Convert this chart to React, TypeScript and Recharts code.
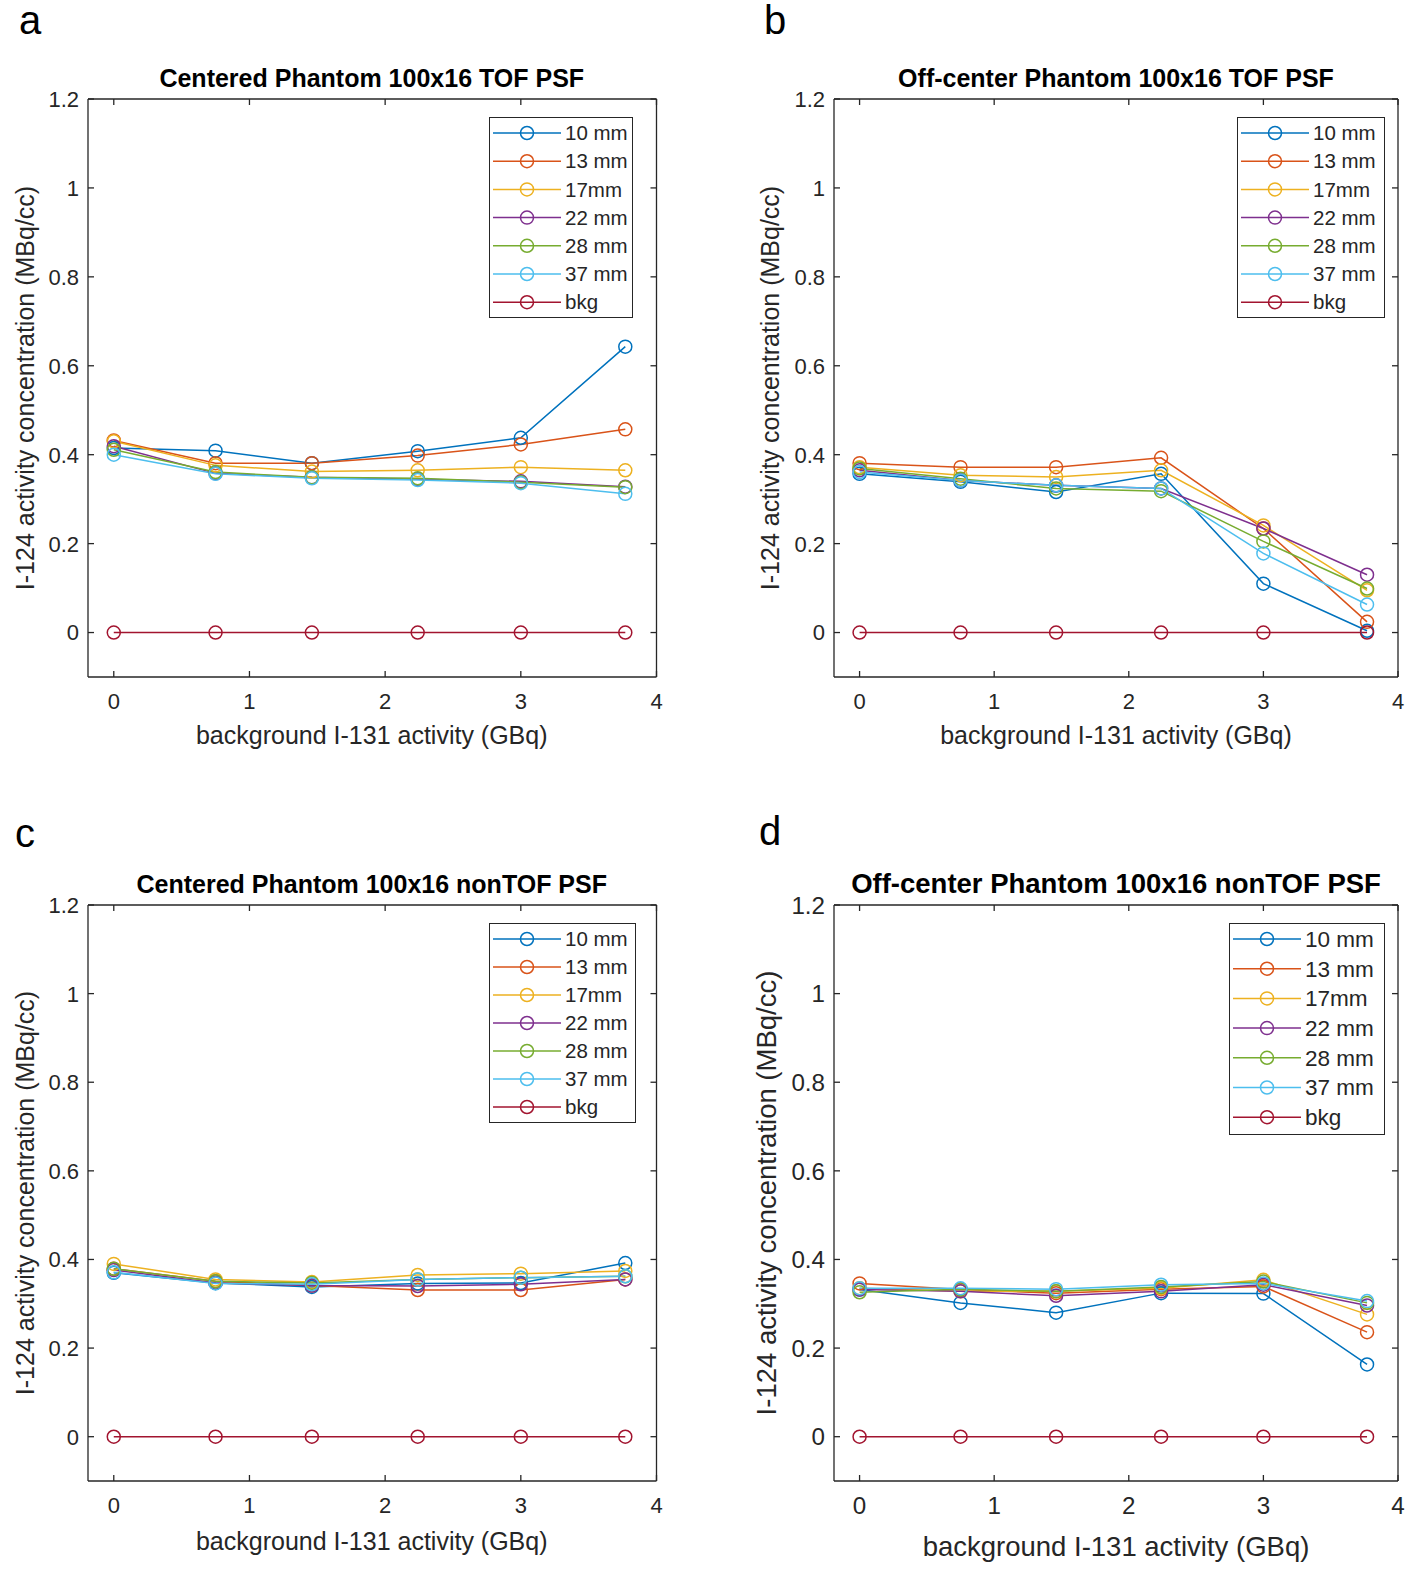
import React from 'react';
import { LineChart, Line, XAxis, YAxis } from 'recharts';

const activity = [0, 0.75, 1.46, 2.24, 3.0, 3.77];
const seriesNames = ['10 mm', '13 mm', '17mm', '22 mm', '28 mm', '37 mm', 'bkg'];
const seriesColors = ['#0072BD', '#D95319', '#EDB120', '#7E2F8E', '#77AC30', '#4DBEEE', '#A2142F'];

// a: centered, TOF PSF
const centeredTof = [
  [0.415, 0.409, 0.381, 0.408, 0.438, 0.643],
  [0.432, 0.381, 0.381, 0.398, 0.423, 0.457],
  [0.43, 0.376, 0.362, 0.365, 0.372, 0.365],
  [0.419, 0.358, 0.349, 0.345, 0.34, 0.328],
  [0.411, 0.361, 0.349, 0.347, 0.338, 0.327],
  [0.4, 0.357, 0.347, 0.343, 0.336, 0.312],
  [0, 0, 0, 0, 0, 0],
];

// b: off-center, TOF PSF
const offCenterTof = [
  [0.357, 0.339, 0.316, 0.357, 0.11, 0.004],
  [0.381, 0.372, 0.372, 0.393, 0.234, 0.024],
  [0.372, 0.354, 0.35, 0.365, 0.241, 0.095],
  [0.365, 0.342, 0.331, 0.324, 0.234, 0.13],
  [0.369, 0.346, 0.324, 0.318, 0.205, 0.099],
  [0.361, 0.342, 0.331, 0.324, 0.178, 0.063],
  [0, 0, 0, 0, 0, 0],
];

// c: centered, nonTOF PSF
const centeredNonTof = [
  [0.37, 0.347, 0.338, 0.346, 0.347, 0.392],
  [0.379, 0.351, 0.341, 0.331, 0.331, 0.355],
  [0.39, 0.355, 0.349, 0.365, 0.368, 0.374],
  [0.376, 0.347, 0.341, 0.34, 0.344, 0.355],
  [0.379, 0.351, 0.347, 0.355, 0.359, 0.362],
  [0.371, 0.346, 0.344, 0.355, 0.359, 0.362],
  [0, 0, 0, 0, 0, 0],
];

// d: off-center, nonTOF PSF
const offCenterNonTof = [
  [0.332, 0.302, 0.28, 0.324, 0.323, 0.163],
  [0.346, 0.332, 0.324, 0.333, 0.339, 0.236],
  [0.335, 0.328, 0.328, 0.335, 0.354, 0.276],
  [0.332, 0.328, 0.318, 0.328, 0.343, 0.296],
  [0.326, 0.333, 0.328, 0.338, 0.35, 0.302],
  [0.335, 0.335, 0.333, 0.343, 0.346, 0.306],
  [0, 0, 0, 0, 0, 0],
];

const xTicks = [0, 1, 2, 3, 4];
const yTicks = [0, 0.2, 0.4, 0.6, 0.8, 1, 1.2];

const FONT = '"Liberation Sans", Arial, sans-serif';
const AXIS = '#262626';

const toRows = (values: number[][]) =>
  activity.map((x, i) => {
    const row: Record<string, number> = { x };
    values.forEach((s, k) => { row['s' + k] = s[i]; });
    return row;
  });

const fmtY = (v: number) => String(Number(v.toFixed(1)));

type Box = { L: number; R: number; T: number; B: number };

type PanelProps = {
  letter: string;
  letterPos: [number, number];
  title: string;
  values: number[][];
  box: Box;
  legend: { left: number; top: number; width: number; height: number; row: number };
  fs: number;
  xLabelY: number;
  yLabelX: number;
};

const Panel = ({ letter, letterPos, title, values, box, legend, fs, xLabelY, yLabelX }: PanelProps) => {
  const yAxisW = 48;
  const padL = 20;
  const padT = 14;
  const padR = 14;
  const width = box.R - box.L + padL + yAxisW + padR + 1;
  const height = box.B - box.T + padT + 1 + 50;
  const rows = toRows(values);
  const cx = (box.L + box.R) / 2;
  const cy = (box.T + box.B) / 2;
  const noTick = () => <g />;

  const xTick = (p: any) => (
    <text x={p.x} y={p.y} dy="0.71em" textAnchor="middle" fill={AXIS} fontSize={22 * fs} fontFamily={FONT}>
      {p.payload.value}
    </text>
  );
  const yTick = (p: any) => (
    <text x={p.x} y={p.y} dy="0.36em" textAnchor="end" fill={AXIS} fontSize={22 * fs} fontFamily={FONT}>
      {fmtY(p.payload.value)}
    </text>
  );

  return (
    <>
      <div style={{ position: 'absolute', left: letterPos[0], top: letterPos[1], transform: 'translate(-50%,-50%)', fontFamily: FONT, fontSize: 40, color: '#000' }}>
        {letter}
      </div>
      <div style={{ position: 'absolute', left: cx, top: box.T - 21, transform: 'translate(-50%,-50%)', fontFamily: FONT, fontSize: 25 * fs, fontWeight: 'bold', whiteSpace: 'nowrap', color: '#000' }}>
        {title}
      </div>
      <div style={{ position: 'absolute', left: cx, top: xLabelY, transform: 'translate(-50%,-50%)', fontFamily: FONT, fontSize: 25 * fs, whiteSpace: 'nowrap', color: AXIS }}>
        background I-131 activity (GBq)
      </div>
      <div style={{ position: 'absolute', left: yLabelX, top: cy, transform: 'translate(-50%,-50%) rotate(-90deg)', fontFamily: FONT, fontSize: 25 * fs, whiteSpace: 'nowrap', color: AXIS }}>
        I-124 activity concentration (MBq/cc)
      </div>
      <div style={{ position: 'absolute', left: box.L - padL - yAxisW, top: box.T - padT - 1 }}>
        <LineChart
          width={width}
          height={height}
          data={rows}
          margin={{ top: padT, right: padR, bottom: 10, left: padL }}
        >
          <XAxis
            xAxisId="b"
            dataKey="x"
            type="number"
            domain={[-0.19, 4]}
            ticks={xTicks}
            interval={0}
            allowDataOverflow
            height={40}
            stroke={AXIS}
            strokeWidth={1.3}
            tickSize={-6}
            tickMargin={22}
            tick={xTick}
          />
          <XAxis
            xAxisId="t"
            orientation="top"
            dataKey="x"
            type="number"
            domain={[-0.19, 4]}
            ticks={xTicks}
            interval={0}
            allowDataOverflow
            height={1}
            stroke={AXIS}
            strokeWidth={1.3}
            tickSize={-6}
            tick={noTick}
          />
          <YAxis
            yAxisId="l"
            type="number"
            domain={[-0.1, 1.2]}
            ticks={yTicks}
            interval={0}
            allowDataOverflow
            width={yAxisW}
            stroke={AXIS}
            strokeWidth={1.3}
            tickSize={-6}
            tickMargin={15}
            tick={yTick}
          />
          <YAxis
            yAxisId="r"
            orientation="right"
            type="number"
            domain={[-0.1, 1.2]}
            ticks={yTicks}
            interval={0}
            allowDataOverflow
            width={1}
            stroke={AXIS}
            strokeWidth={1.3}
            tickSize={-6}
            tick={noTick}
          />
          {seriesNames.map((name, k) => (
            <Line
              key={name}
              xAxisId="b"
              yAxisId="l"
              dataKey={'s' + k}
              name={name}
              type="linear"
              stroke={seriesColors[k]}
              strokeWidth={1.5}
              dot={{ r: 6.5, fill: 'none', stroke: seriesColors[k], strokeWidth: 1.5 }}
              isAnimationActive={false}
            />
          ))}
        </LineChart>
      </div>
      <div style={{ position: 'absolute', left: legend.left, top: legend.top, width: legend.width, height: legend.height, border: `1.3px solid ${AXIS}`, boxSizing: 'border-box', background: '#fff' }}>
        <svg width={legend.width} height={legend.height} style={{ position: 'absolute', left: -1, top: -1 }}>
          {seriesNames.map((name, k) => {
            const y = 16 + k * legend.row;
            return (
              <g key={name}>
                <line x1={4} x2={72} y1={y} y2={y} stroke={seriesColors[k]} strokeWidth={1.5} />
                <circle cx={38} cy={y} r={6.5} fill="none" stroke={seriesColors[k]} strokeWidth={1.5} />
                <text x={76} y={y} dy="0.35em" fontFamily={FONT} fontSize={20.5 * fs} fill={AXIS}>{name}</text>
              </g>
            );
          })}
        </svg>
      </div>
    </>
  );
};

export default function App() {
  return (
    <div style={{ position: 'absolute', left: 0, top: 0, width: 1418, height: 1577, background: '#fff' }}>
      <Panel
        letter="a"
        letterPos={[30, 20]}
        title="Centered Phantom 100x16 TOF PSF"
        values={centeredTof}
        box={{ L: 87.5, R: 656, T: 99, B: 677 }}
        legend={{ left: 489, top: 117, width: 144, height: 201, row: 28.2 }}
        fs={1}
        xLabelY={735}
        yLabelX={25}
      />
      <Panel
        letter="b"
        letterPos={[775, 20]}
        title="Off-center Phantom 100x16 TOF PSF"
        values={offCenterTof}
        box={{ L: 834, R: 1398, T: 99, B: 677 }}
        legend={{ left: 1237, top: 117, width: 148, height: 201, row: 28.2 }}
        fs={1}
        xLabelY={735}
        yLabelX={770}
      />
      <Panel
        letter="c"
        letterPos={[25, 833]}
        title="Centered Phantom 100x16 nonTOF PSF"
        values={centeredNonTof}
        box={{ L: 87.5, R: 656, T: 905, B: 1481 }}
        legend={{ left: 489, top: 923, width: 147, height: 200, row: 28 }}
        fs={1}
        xLabelY={1541}
        yLabelX={25}
      />
      <Panel
        letter="d"
        letterPos={[770, 831]}
        title="Off-center Phantom 100x16 nonTOF PSF"
        values={offCenterNonTof}
        box={{ L: 834, R: 1398, T: 905, B: 1481 }}
        legend={{ left: 1229, top: 923, width: 156, height: 212, row: 29.7 }}
        fs={1.1}
        xLabelY={1547}
        yLabelX={767}
      />
    </div>
  );
}
